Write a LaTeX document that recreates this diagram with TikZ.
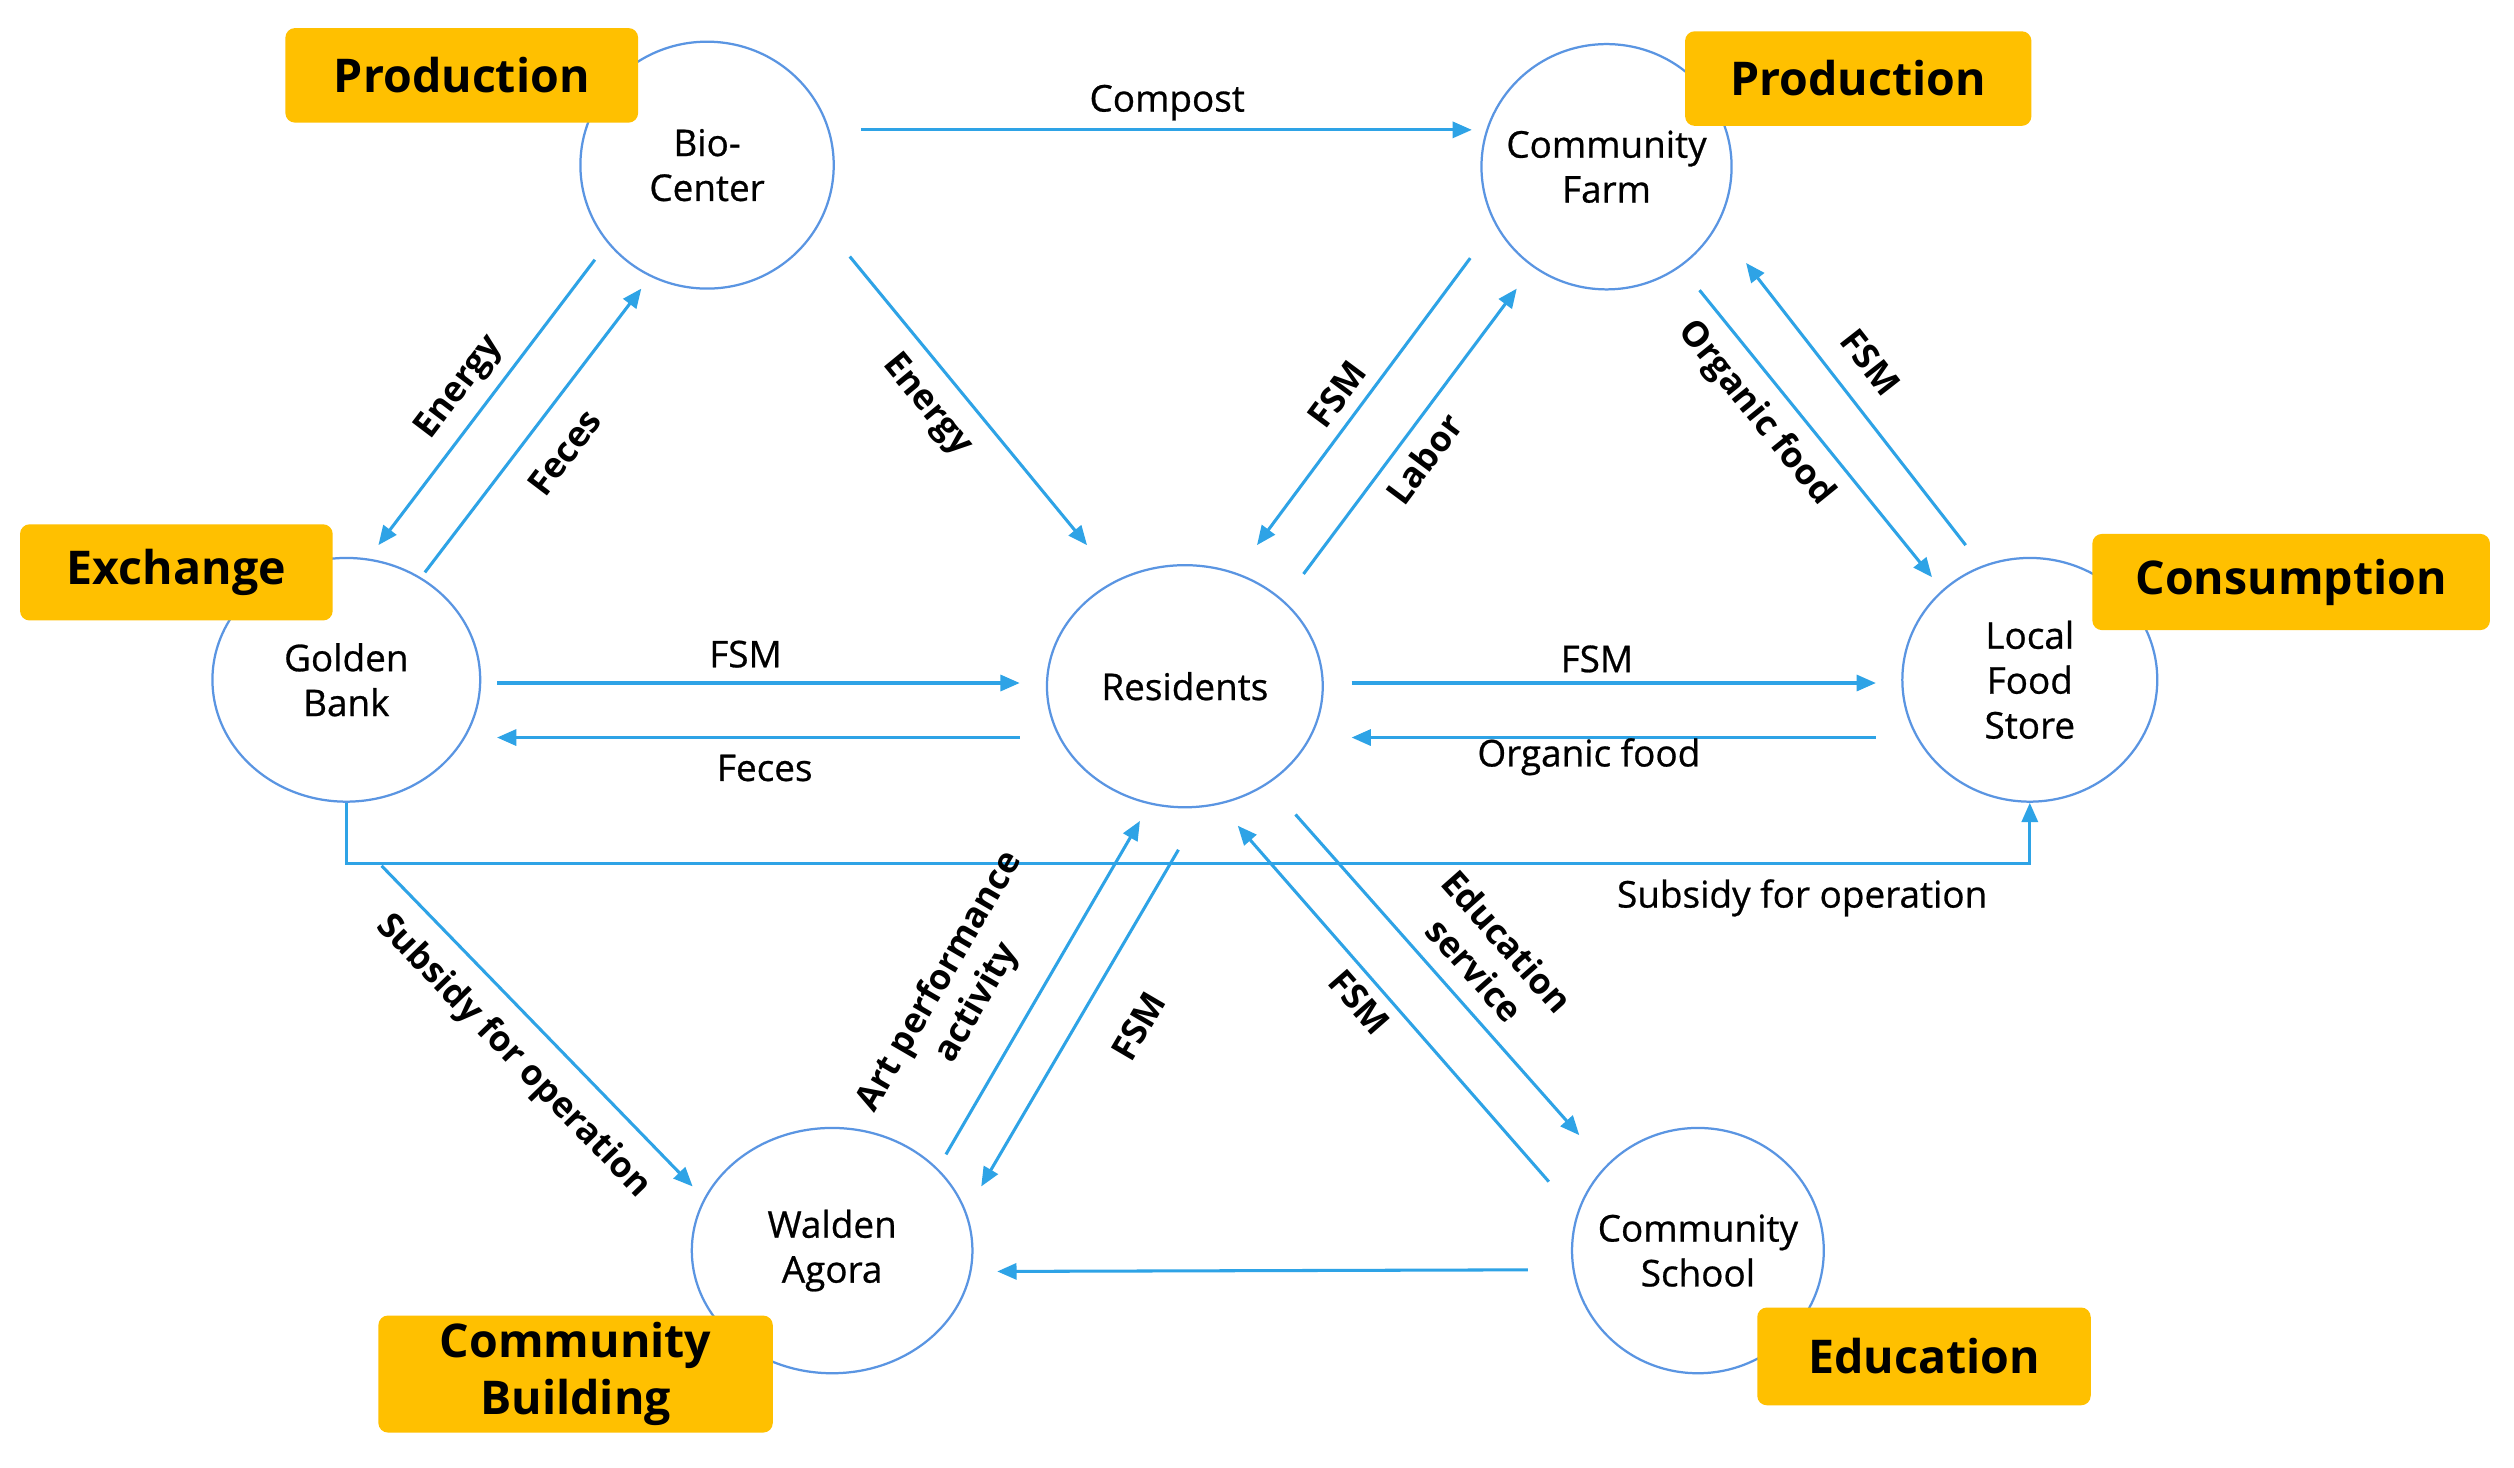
\documentclass[tikz,border=0pt]{standalone}
\usepackage{fontspec}
\setmainfont{Open Sans}
\newfontfamily\medfont[FakeBold=0.7]{Open Sans}
\usetikzlibrary{arrows.meta,calc,shapes.geometric}
\definecolor{ecol}{HTML}{5A95E2}
\definecolor{acol}{HTML}{2EA3E6}
\definecolor{ocol}{HTML}{FFC000}
\newcommand{\zw}[1]{\makebox[0pt]{#1}}
\begin{document}
\begin{tikzpicture}[x=1pt,y=-1pt,
  ent/.style={ellipse, draw=ecol, line width=1.4pt, fill=white, inner sep=0pt, align=center, font=\medfont\fontsize{23}{28}\selectfont},
  cat/.style={fill=ocol, rounded corners=6pt, align=center, font=\bfseries\fontsize{29}{36}\selectfont, inner sep=0pt},
  flow/.style={draw=acol, line width=1.9pt, -{Triangle[length=12pt,width=10pt]}},
  lbl/.style={font=\medfont\fontsize{23}{26}\selectfont, inner sep=1pt},
  rl/.style={font=\bfseries\fontsize{22}{27}\selectfont, inner sep=1pt, align=center}
]
\useasboundingbox (0,0) rectangle (1568,915);
\fill[white] (0,0) rectangle (1568,915);

% entities
\node[ent, minimum width=158pt, minimum height=154pt] (bio) at (441,103) {Bio-\\Center};
\node[ent, minimum width=156pt, minimum height=153pt] (farm) at (1002,104) {\zw{Community}\\\zw{Farm}};
\node[ent, minimum width=167pt, minimum height=152pt] (gold) at (216,424) {Golden\\Bank};
\node[ent, minimum width=172pt, minimum height=151pt] (res) at (739,428) {Residents};
\node[ent, minimum width=159pt, minimum height=152pt] (store) at (1266,424) {Local\\Food\\Store};
\node[ent, minimum width=175pt, minimum height=153pt] (wal) at (519,780) {Walden\\Agora};
\node[ent, minimum width=157pt, minimum height=153pt] (sch) at (1059,780) {\zw{Community}\\\zw{School}};

% flows
\draw[flow] ($(bio.center)+(96,-22)$) -- ($(farm.center)+(-84,-23)$);
\draw[flow] ($(bio.center)+(89,57)$) -- ($(res.center)+(-61,-88)$);
\draw[flow] ($(bio.center)+(-70,59)$) -- ($(gold.center)+(20,-84)$);
\draw[flow] ($(gold.center)+(49,-67)$) -- ($(bio.center)+(-41,77)$);
\draw[flow] ($(farm.center)+(-85,57)$) -- ($(res.center)+(45,-88)$);
\draw[flow] ($(res.center)+(74,-70)$) -- ($(farm.center)+(-56,76)$);
\draw[flow] ($(farm.center)+(58,77)$) -- ($(store.center)+(-61,-64)$);
\draw[flow] ($(store.center)+(-40,-84)$) -- ($(farm.center)+(87,60)$);
\draw[flow] ($(gold.center)+(94,2)$) -- ($(res.center)+(-103,-2)$);
\draw[flow] ($(res.center)+(-103,32)$) -- ($(gold.center)+(94,36)$);
\draw[flow] ($(res.center)+(104,-2)$) -- ($(store.center)+(-96,2)$);
\draw[flow] ($(store.center)+(-96,36)$) -- ($(res.center)+(104,32)$);
\draw[flow] (gold.south) -- ++(0,38) -| (store.south);
\draw[flow] ($(gold.center)+(22,116)$) -- ($(wal.center)+(-87,-40)$);
\draw[flow] ($(wal.center)+(71,-60)$) -- ($(res.center)+(-28,84)$);
\draw[flow] ($(res.center)+(-4,102)$) -- ($(wal.center)+(93,-40)$);
\draw[flow] ($(sch.center)+(-93,-43)$) -- ($(res.center)+(33,87)$);
\draw[flow] ($(res.center)+(69,80)$) -- ($(sch.center)+(-74,-72)$);
\draw[flow] ($(sch.center)+(-106,12)$) -- ($(wal.center)+(103,13)$);

% horizontal labels
\node[lbl] (lcompost) at (728,64) {Compost};
\node[lbl] (lfsm1) at (465,408) {FSM};
\node[lbl] (lfec1) at (477,479) {Feces};
\node[lbl] (lfsm2) at (996,411) {FSM};
\node[lbl] (lorg1) at (991,472) {Organic food};
\node[lbl] (lsub1) at (1124,560) {Subsidy for operation};

% sloped labels
\node[rl, rotate=-50.6] (len1) at (578,253) {Energy};
\node[rl, rotate=52.8] (len2) at (287,242) {Energy};
\node[rl, rotate=52.8] (lfec2) at (352,282) {Feces};
\node[rl, rotate=53.3] (lfsm3) at (834,246) {FSM};
\node[rl, rotate=53.3] (llab) at (888,286) {Labor};
\node[rl, rotate=-51] (lorg2) at (1095,258) {Organic food};
\node[rl, rotate=-52] (lfsm4) at (1167,226) {FSM};
\node[rl, rotate=-46] (lsub2) at (320,659) {Subsidy for operation};
\node[rl, rotate=59.8] (lart) at (598,619) {Art performance\\activity};
\node[rl, rotate=59.6] (lfsm5) at (710,640) {FSM};
\node[rl, rotate=-48.8] (lfsm6) at (848,625) {FSM};
\node[rl, rotate=-48.5] (ledu) at (930,596) {Education\\service};

% category boxes
\node[cat, minimum width=220pt, minimum height=59pt] (c1) at (288,47) {Production};
\node[cat, minimum width=216pt, minimum height=59pt] (c2) at (1159,49) {Production};
\node[cat, minimum width=195pt, minimum height=60pt] (c3) at (110,357) {Exchange};
\node[cat, minimum width=248pt, minimum height=60pt] (c4) at (1429,363) {Consumption};
\node[cat, minimum width=246pt, minimum height=73pt] (c5) at (359,857) {Community\\Building};
\node[cat, minimum width=208pt, minimum height=61pt] (c6) at (1200,846) {Education};
\end{tikzpicture}
\end{document}
